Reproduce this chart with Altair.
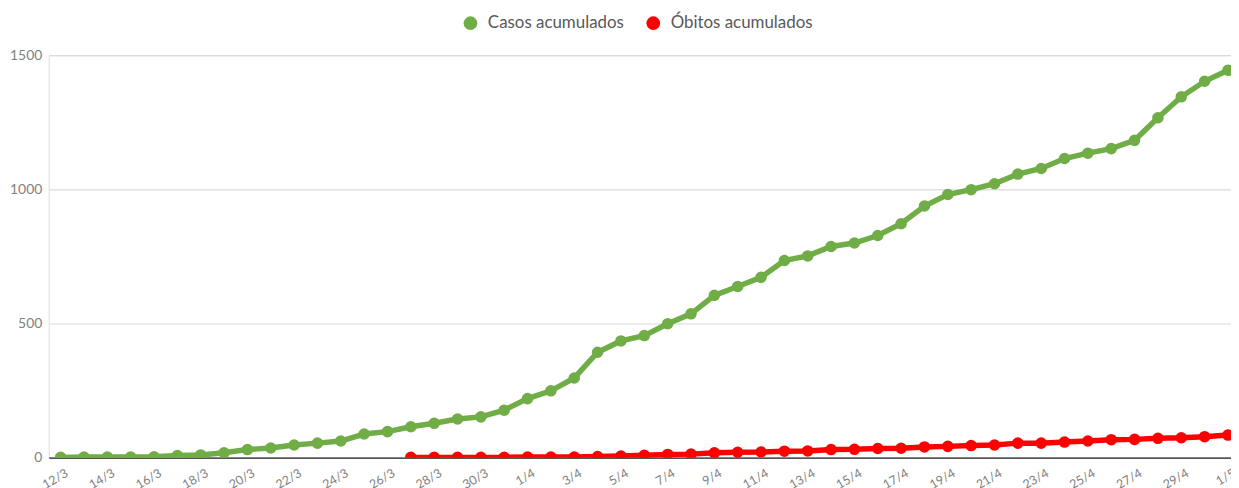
import altair as alt
import pandas as pd

dias = ["12/3","13/3","14/3","15/3","16/3","17/3","18/3","19/3","20/3","21/3",
        "22/3","23/3","24/3","25/3","26/3","27/3","28/3","29/3","30/3","31/3",
        "1/4","2/4","3/4","4/4","5/4","6/4","7/4","8/4","9/4","10/4",
        "11/4","12/4","13/4","14/4","15/4","16/4","17/4","18/4","19/4","20/4",
        "21/4","22/4","23/4","24/4","25/4","26/4","27/4","28/4","29/4","30/4","1/5"]

casos = [1, 2, 2, 2, 3, 8, 10, 18, 30, 36,
         47, 54, 62, 88, 97, 115, 128, 144, 152, 177,
         220, 249, 297, 393, 435, 455, 499, 536, 605, 638,
         672, 735, 752, 787, 800, 828, 872, 938, 981, 999,
         1021, 1057, 1078, 1115, 1135, 1152, 1183, 1267, 1345, 1403, 1444]

obitos = [None]*15 + [1, 1, 1, 1, 1,
                      2, 2, 2, 4, 6, 9, 12, 13, 18, 20,
                      21, 24, 25, 30, 31, 34, 35, 40, 42, 45,
                      47, 54, 54, 58, 62, 67, 68, 72, 74, 78, 84]

series = ["Casos acumulados", "Óbitos acumulados"]
cores = ["#70AD47", "#FF0000"]

rows = []
for i, d in enumerate(dias):
    rows.append({"i": i, "dia": d, "serie": series[0], "valor": casos[i]})
    if obitos[i] is not None:
        rows.append({"i": i, "dia": d, "serie": series[1], "valor": obitos[i]})
df = pd.DataFrame(rows)

label_arr = "[" + ",".join('"%s"' % d for d in dias) + "]"

FONT = "Lato"

x = alt.X("i:Q",
          scale=alt.Scale(domain=[-0.51, 50.13], nice=False, zero=False),
          axis=alt.Axis(values=list(range(0, 51, 2)),
                        labelExpr=label_arr + "[datum.value]",
                        title=None, grid=False, ticks=False,
                        domain=True, domainColor="#262626", domainWidth=1.2,
                        labelAngle=-30, labelAlign="right", labelBaseline="top",
                        labelPadding=9, labelOffset=3,
                        labelFont=FONT, labelFontSize=12.5, labelColor="#7f7f7f",
                        labelOverlap=False, labelFlush=False))
y = alt.Y("valor:Q",
          scale=alt.Scale(domain=[0, 1500], nice=False),
          axis=alt.Axis(values=[0, 500, 1000, 1500], title=None, format="d",
                        grid=True, gridColor="#d9d9d9", gridWidth=1.2,
                        ticks=False, domain=False, labelPadding=7,
                        labelFont=FONT, labelFontSize=14, labelColor="#7f7f7f"))
color = alt.Color("serie:N",
                  scale=alt.Scale(domain=series, range=cores),
                  legend=alt.Legend(title=None, orient="none", direction="horizontal",
                                    legendX=416, legendY=-41,
                                    symbolType="circle", symbolSize=190,
                                    symbolStrokeWidth=0, symbolOpacity=1,
                                    labelFont=FONT, labelFontSize=17,
                                    labelColor="#595959", labelOffset=9,
                                    columnPadding=20))

base = alt.Chart(df).encode(x=x, y=y, color=color, detail="serie:N")

lines = base.mark_line(strokeWidth=5.5, clip=True)
points = base.mark_circle(size=135, opacity=1, clip=True)

chart = (lines + points).properties(
    width=1190, height=405,
    autosize=alt.AutoSizeParams(type="none"),
    padding={"left": 41, "top": 46, "right": 0, "bottom": 29},
).configure_view(stroke=None).configure(background="white")

chart.save("out.html", embed_options={"renderer": "svg", "actions": False})
